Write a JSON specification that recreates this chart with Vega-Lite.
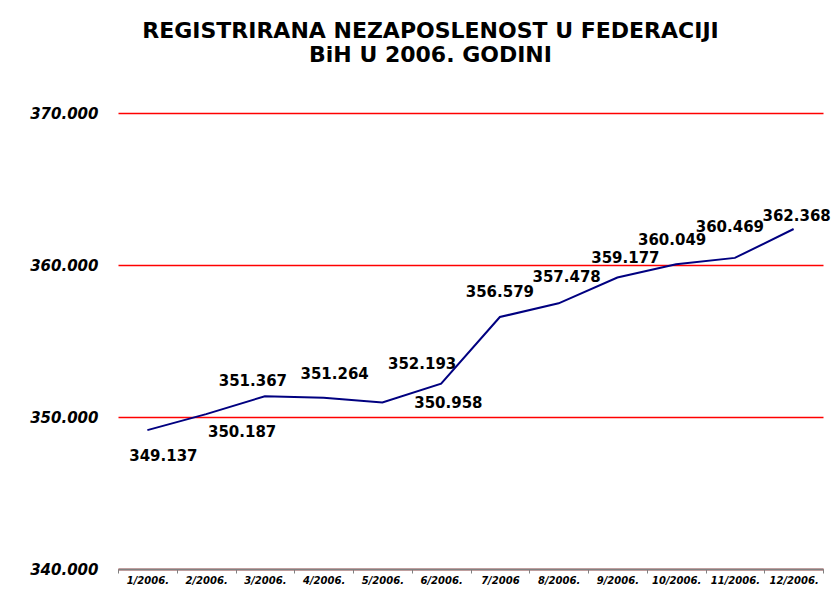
{
  "$schema": "https://vega.github.io/schema/vega-lite/v6.json",
  "width": 705,
  "height": 456,
  "autosize": {"type": "none"},
  "padding": {"left": 118, "top": 113, "right": 9, "bottom": 32},
  "background": "white",
  "config": {"view": {"stroke": null}},
  "title": {
    "text": ["REGISTRIRANA NEZAPOSLENOST U FEDERACIJI", "BiH U 2006. GODINI"],
    "font": "DejaVu Sans",
    "fontSize": 22,
    "fontWeight": "bold",
    "color": "black",
    "lineHeight": 24,
    "offset": 39,
    "dx": -40,
    "anchor": "middle"
  },
  "data": {
    "values": [
      {"month": "1/2006.", "value": 349137},
      {"month": "2/2006.", "value": 350187},
      {"month": "3/2006.", "value": 351367},
      {"month": "4/2006.", "value": 351264},
      {"month": "5/2006.", "value": 350958},
      {"month": "6/2006.", "value": 352193},
      {"month": "7/2006", "value": 356579},
      {"month": "8/2006.", "value": 357478},
      {"month": "9/2006.", "value": 359177},
      {"month": "10/2006.", "value": 360049},
      {"month": "11/2006.", "value": 360469},
      {"month": "12/2006.", "value": 362368}
    ]
  },
  "transform": [
    {"calculate": "replace(format(datum.value, ','), ',', '.')", "as": "label"}
  ],
  "encoding": {
    "x": {
      "field": "month",
      "type": "ordinal",
      "sort": null,
      "bandPosition": 0.5,
      "scale": {"type": "band", "paddingInner": 0, "paddingOuter": 0},
      "axis": {
        "title": null,
        "tickBand": "extent",
        "domainColor": "#808080",
        "domainWidth": 1.8,
        "tickColor": "#808080",
        "tickSize": 4,
        "labelFont": "DejaVu Sans",
        "labelFontSize": 10,
        "labelFontWeight": "bold",
        "labelFontStyle": "italic",
        "labelAngle": 0,
        "labelPadding": 2,
        "labelColor": "black",
        "grid": false,
        "zindex": 1
      }
    },
    "y": {
      "field": "value",
      "type": "quantitative",
      "scale": {"domain": [340000, 370000], "zero": false, "nice": false},
      "axis": {
        "title": null,
        "values": [340000, 350000, 360000, 370000],
        "labelExpr": "replace(format(datum.value, ','), ',', '.')",
        "domain": false,
        "ticks": false,
        "grid": true,
        "gridColor": "#FF0000",
        "gridOpacity": 1,
        "gridWidth": 1.6,
        "labelFont": "DejaVu Sans",
        "labelFontSize": 15,
        "labelFontWeight": "bold",
        "labelFontStyle": "italic",
        "labelPadding": 20,
        "labelColor": "black"
      }
    }
  },
  "layer": [
    {"mark": {"type": "line", "color": "#000080", "strokeWidth": 2}},
    {"transform": [{"filter": "datum.month == '1/2006.'"}], "mark": {"type": "text", "font": "DejaVu Sans", "fontSize": 15, "fontWeight": "bold", "color": "black", "dx": 16, "dy": 26}, "encoding": {"text": {"field": "label"}}},
    {"transform": [{"filter": "datum.month == '2/2006.'"}], "mark": {"type": "text", "font": "DejaVu Sans", "fontSize": 15, "fontWeight": "bold", "color": "black", "dx": 36, "dy": 18}, "encoding": {"text": {"field": "label"}}},
    {"transform": [{"filter": "datum.month == '3/2006.'"}], "mark": {"type": "text", "font": "DejaVu Sans", "fontSize": 15, "fontWeight": "bold", "color": "black", "dx": -12, "dy": -15}, "encoding": {"text": {"field": "label"}}},
    {"transform": [{"filter": "datum.month == '4/2006.'"}], "mark": {"type": "text", "font": "DejaVu Sans", "fontSize": 15, "fontWeight": "bold", "color": "black", "dx": 11, "dy": -24}, "encoding": {"text": {"field": "label"}}},
    {"transform": [{"filter": "datum.month == '5/2006.'"}], "mark": {"type": "text", "font": "DejaVu Sans", "fontSize": 15, "fontWeight": "bold", "color": "black", "dx": 66, "dy": 1}, "encoding": {"text": {"field": "label"}}},
    {"transform": [{"filter": "datum.month == '6/2006.'"}], "mark": {"type": "text", "font": "DejaVu Sans", "fontSize": 15, "fontWeight": "bold", "color": "black", "dx": -19, "dy": -20}, "encoding": {"text": {"field": "label"}}},
    {"transform": [{"filter": "datum.month == '7/2006'"}], "mark": {"type": "text", "font": "DejaVu Sans", "fontSize": 15, "fontWeight": "bold", "color": "black", "dx": 0, "dy": -25}, "encoding": {"text": {"field": "label"}}},
    {"transform": [{"filter": "datum.month == '8/2006.'"}], "mark": {"type": "text", "font": "DejaVu Sans", "fontSize": 15, "fontWeight": "bold", "color": "black", "dx": 8, "dy": -26}, "encoding": {"text": {"field": "label"}}},
    {"transform": [{"filter": "datum.month == '9/2006.'"}], "mark": {"type": "text", "font": "DejaVu Sans", "fontSize": 15, "fontWeight": "bold", "color": "black", "dx": 8, "dy": -20}, "encoding": {"text": {"field": "label"}}},
    {"transform": [{"filter": "datum.month == '10/2006.'"}], "mark": {"type": "text", "font": "DejaVu Sans", "fontSize": 15, "fontWeight": "bold", "color": "black", "dx": -4, "dy": -24}, "encoding": {"text": {"field": "label"}}},
    {"transform": [{"filter": "datum.month == '11/2006.'"}], "mark": {"type": "text", "font": "DejaVu Sans", "fontSize": 15, "fontWeight": "bold", "color": "black", "dx": -5, "dy": -31}, "encoding": {"text": {"field": "label"}}},
    {"transform": [{"filter": "datum.month == '12/2006.'"}], "mark": {"type": "text", "font": "DejaVu Sans", "fontSize": 15, "fontWeight": "bold", "color": "black", "dx": 3, "dy": -13}, "encoding": {"text": {"field": "label"}}}
  ]
}
